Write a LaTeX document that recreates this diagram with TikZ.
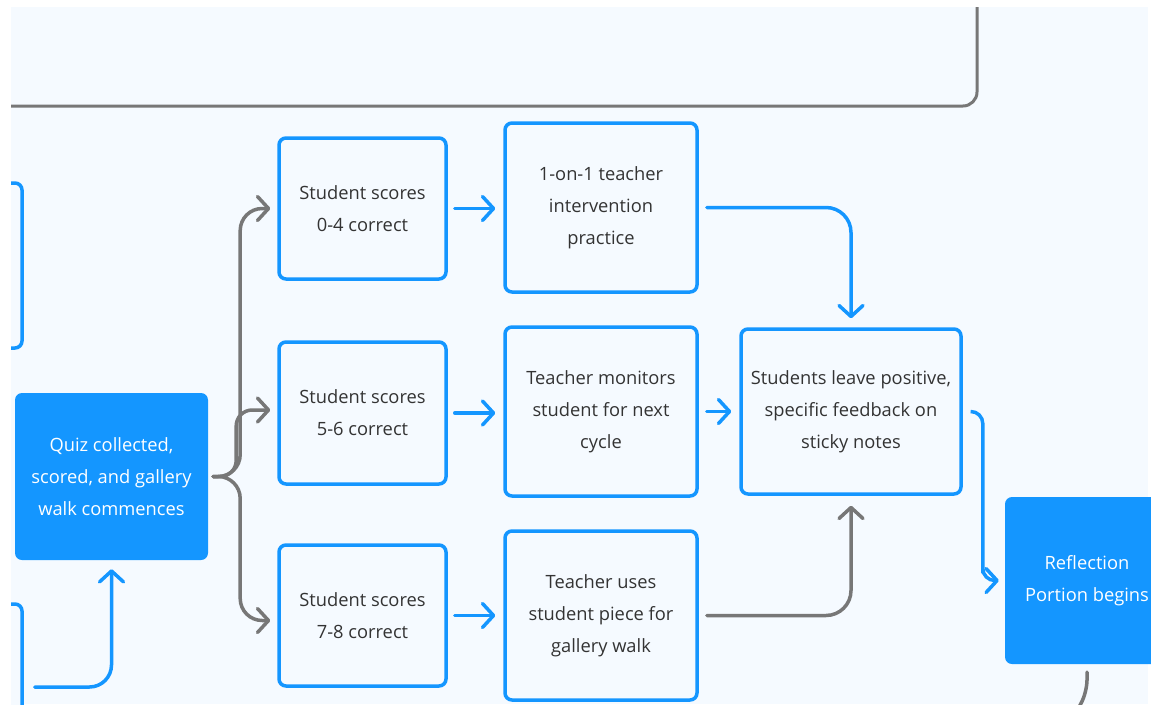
\documentclass[tikz,border=0pt]{standalone}
\usepackage{fontspec}
\setmainfont{Open Sans}
\usetikzlibrary{positioning,arrows.meta}

\definecolor{flowblue}{HTML}{1496FF}
\definecolor{flowgray}{HTML}{777777}
\definecolor{flowbg}{HTML}{F5FAFF}
\definecolor{flowtext}{HTML}{333333}

\begin{document}
\begin{tikzpicture}[
        x=1pt, y=-1pt,
        step box/.style={
            rectangle,
            draw=flowblue,
            line width=3.5pt,
            fill=flowbg,
            rounded corners=7pt,
            align=center,
            text=flowtext,
            font=\fontsize{18.3}{32}\selectfont
        },
        key box/.style={
            rectangle,
            fill=flowblue,
            rounded corners=7pt,
            align=center,
            text=white,
            font=\fontsize{18.3}{32}\selectfont
        },
        bluearrow/.style={
            -{Straight Barb[length=11pt,width=24pt,line cap=round,line join=round]},
            draw=flowblue,
            line width=3.5pt,
            line cap=round
        },
        grayarrow/.style={
            bluearrow,
            draw=flowgray
        }
    ]

    % canvas
    \useasboundingbox (0,0) rectangle (1151,704);
    \fill[white] (0,0) rectangle (1151,704);
    \fill[flowbg] (11,7) rectangle (1148,704);
    \clip (11,7) rectangle (1151,704);

    % boxes cut off by the frame
    \node[rectangle, draw=flowgray, line width=3pt, rounded corners=14pt,
          minimum width=994pt, minimum height=212pt] (prev) at (480,0) {};
    \node[step box, minimum width=144pt, minimum height=165pt] (leftA) at (-50,265.5) {};
    \node[step box, minimum width=144pt, minimum height=172pt] (leftB) at (-50,690) {};

    % start of the gallery walk
    \node[key box, minimum width=193pt, minimum height=167pt] (quiz) at (111.5,476.5)
        {Quiz collected,\\scored, and gallery\\walk commences};

    % score groups
    \node[step box, minimum width=167pt, minimum height=141pt] (score1) at (362.5,208.5)
        {Student scores\\0-4 correct};
    \node[step box, minimum width=167pt, minimum height=142pt] (score2) at (362.5,413)
        {Student scores\\5-6 correct};
    \node[step box, minimum width=167pt, minimum height=141pt] (score3) at (362.5,615.5)
        {Student scores\\7-8 correct};

    % teacher actions
    \node[step box, minimum width=192pt, minimum height=169pt] (act1) at (601,207.5)
        {1-on-1 teacher\\intervention\\practice};
    \node[step box, minimum width=192pt, minimum height=169pt] (act2) at (601,411.5)
        {Teacher monitors\\student for next\\cycle};
    \node[step box, minimum width=192pt, minimum height=169pt] (act3) at (601,615.5)
        {Teacher uses\\student piece for\\gallery walk};

    % feedback and reflection
    \node[step box, minimum width=220pt, minimum height=165pt] (feedback) at (851,411.5)
        {Students leave positive,\\specific feedback on\\sticky notes};
    \node[key box, minimum width=164pt, minimum height=167pt] (reflect) at (1087,580.5)
        {Reflection\\Portion begins};
    \coordinate (next) at (1072,720);

    % Connections
    \draw[bluearrow, rounded corners=22pt] ([xshift=11pt,yshift=3pt]leftB.east)
        -| ([yshift=-9pt]quiz.south);

    % branch out from the quiz
    \draw[grayarrow, rounded corners=22pt] ([xshift=5pt]quiz.east) -- ++(27,0)
        |- ([xshift=-7pt]score1.west);
    \draw[grayarrow, rounded corners=16pt] ([xshift=5pt]quiz.east) -- ++(23,0)
        |- ([xshift=-7pt,yshift=3pt]score2.west);
    \draw[grayarrow, rounded corners=22pt] ([xshift=5pt]quiz.east) -- ++(27,0)
        |- ([xshift=-7pt,yshift=-5pt]score3.west);

    \draw[bluearrow] ([xshift=7pt]score1.east) -- ([xshift=-8pt]score1.east -| act1.west);
    \draw[bluearrow] ([xshift=7pt]score2.east) -- ([xshift=-8pt]score2.east -| act2.west);
    \draw[bluearrow] ([xshift=7pt]score3.east) -- ([xshift=-8pt]score3.east -| act3.west);

    \draw[bluearrow, rounded corners=25pt] ([xshift=8pt]act1.east) -| ([yshift=9pt]feedback.north);
    \draw[bluearrow] ([xshift=8pt]act2.east) -- ([xshift=-8pt]feedback.west);
    \draw[grayarrow, rounded corners=25pt] ([xshift=8pt]act3.east) -| ([yshift=-10pt]feedback.south);

    \draw[bluearrow, rounded corners=12pt] ([xshift=9pt]feedback.east)
        -| ([xshift=-22pt]reflect.west) |- ([xshift=-6pt]reflect.west);

    \draw[flowgray, line width=3.5pt, line cap=round, rounded corners=12pt]
        ([yshift=-8pt]reflect.south) -- ++(0,20) -- (next);

\end{tikzpicture}
\end{document}
